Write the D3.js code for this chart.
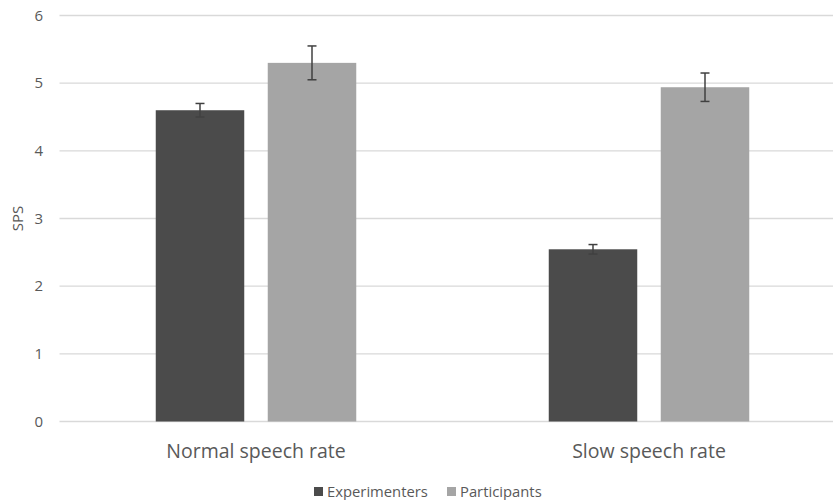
<!DOCTYPE html>
<html>
<head>
<meta charset="utf-8">
<script src="https://cdn.jsdelivr.net/npm/d3@7"></script>
<style>
  body { margin: 0; background: #fff; }
  svg { font-family: "Open Sans", sans-serif; }
</style>
</head>
<body>
<div id="chart"></div>
<script>
// chart data
var categories = ["Normal speech rate", "Slow speech rate"];
var seriesNames = ["Experimenters", "Participants"];
var experimenters = [4.60, 2.545];
var participants = [5.30, 4.94];
var experimentersErr = [0.10, 0.07];
var participantsErr = [0.25, 0.21];
var yTicks = [0, 1, 2, 3, 4, 5, 6];

var colors = { "Experimenters": "#4b4b4b", "Participants": "#a5a5a5" };

var width = 835, height = 500;
var margin = { left: 59.5, right: -10.5, top: 15.5, bottom: 78.5 };

var svg = d3.select("#chart").append("svg")
    .attr("width", width)
    .attr("height", height);

var x0 = d3.scaleBand()
    .domain(categories)
    .range([margin.left, width - margin.right])
    .paddingInner(0)
    .paddingOuter(0);

var y = d3.scaleLinear()
    .domain([0, 6])
    .range([height - margin.bottom, margin.top]);

var barW = 88.5, barGap = 23.5;

// gridlines
svg.append("g")
    .selectAll("line")
    .data(yTicks)
    .enter().append("line")
    .attr("x1", margin.left)
    .attr("x2", 833)
    .attr("y1", function (d) { return y(d); })
    .attr("y2", function (d) { return y(d); })
    .attr("stroke", "#d9d9d9")
    .attr("stroke-width", 1.3);

// y tick labels
svg.append("g")
    .selectAll("text")
    .data(yTicks)
    .enter().append("text")
    .attr("x", 43)
    .attr("y", function (d) { return y(d); })
    .attr("dy", "0.35em")
    .attr("text-anchor", "end")
    .attr("fill", "#595959")
    .style("font-size", "15px")
    .text(function (d) { return d; });

svg.append("text")
    .attr("transform", "translate(23," + y(3) + ") rotate(-90)")
    .attr("text-anchor", "middle")
    .attr("fill", "#595959")
    .style("font-size", "15px")
    .text("SPS");

// bars
var rows = categories.map(function (c, i) {
    return [
        { cat: c, name: "Experimenters", value: experimenters[i], err: experimentersErr[i], k: 0 },
        { cat: c, name: "Participants", value: participants[i], err: participantsErr[i], k: 1 }
    ];
});
var flat = [].concat.apply([], rows);

function barX(d) {
    var center = x0(d.cat) + x0.bandwidth() / 2;
    return d.k === 0 ? center - barGap / 2 - barW : center + barGap / 2;
}

svg.append("g")
    .selectAll("rect")
    .data(flat)
    .enter().append("rect")
    .attr("x", barX)
    .attr("y", function (d) { return y(d.value); })
    .attr("width", barW)
    .attr("height", function (d) { return y(0) - y(d.value); })
    .attr("fill", function (d) { return colors[d.name]; });

// error bars
var eb = svg.append("g")
    .attr("stroke", "#404040")
    .attr("stroke-width", 1.5);

flat.forEach(function (d) {
    var cx = barX(d) + barW / 2;
    eb.append("line")
        .attr("x1", cx).attr("x2", cx)
        .attr("y1", y(d.value + d.err)).attr("y2", y(d.value - d.err));
    [d.value + d.err, d.value - d.err].forEach(function (v) {
        eb.append("line")
            .attr("x1", cx - 4.5).attr("x2", cx + 4.5)
            .attr("y1", y(v)).attr("y2", y(v));
    });
});

// category labels
svg.append("g")
    .selectAll("text")
    .data(categories)
    .enter().append("text")
    .attr("x", function (d) { return x0(d) + x0.bandwidth() / 2; })
    .attr("y", 458)
    .attr("text-anchor", "middle")
    .attr("fill", "#595959")
    .style("font-size", "19.5px")
    .text(function (d) { return d; });

// legend
var legendX = [314, 447];
var legend = svg.append("g")
    .selectAll("g")
    .data(seriesNames)
    .enter().append("g")
    .attr("transform", function (d, i) { return "translate(" + legendX[i] + ",487)"; });

legend.append("rect")
    .attr("width", 9)
    .attr("height", 9)
    .attr("fill", function (d) { return colors[d]; });

legend.append("text")
    .attr("x", 13)
    .attr("y", 4.5)
    .attr("dy", "0.35em")
    .attr("fill", "#595959")
    .style("font-size", "14.8px")
    .text(function (d) { return d; });
</script>
</body>
</html>
